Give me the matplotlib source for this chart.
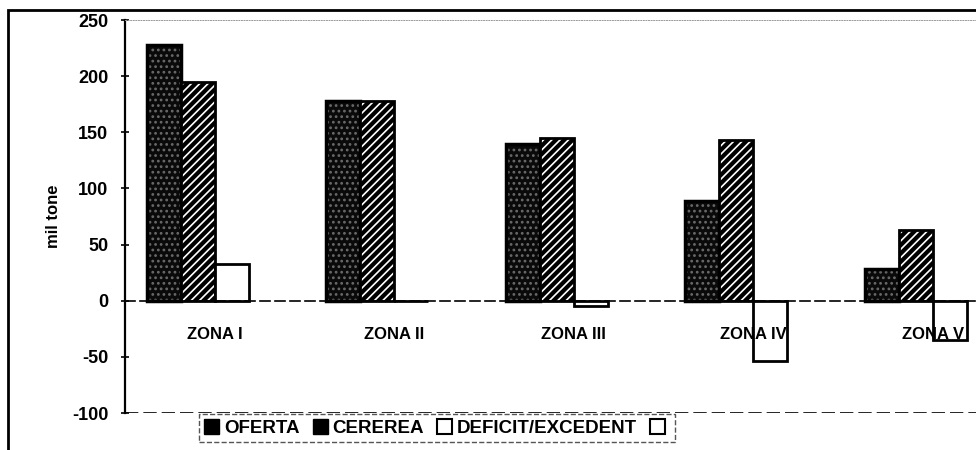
import matplotlib.pyplot as plt
import matplotlib.patches as mpatches
import numpy as np

plt.rcParams['font.family'] = ['Liberation Sans', 'DejaVu Sans']
plt.rcParams['axes.unicode_minus'] = False
plt.rcParams['hatch.linewidth'] = 1.2

zone = ['ZONA I', 'ZONA II', 'ZONA III', 'ZONA IV', 'ZONA V']
oferta = [228, 178, 140, 89, 28]
cererea = [195, 178, 145, 143, 63]
deficit = [33, 0, -5, -54, -35]
gol = [0, 0, 0, 0, 0]   # a patra serie, goala
serii = ['OFERTA', 'CEREREA', 'DEFICIT/EXCEDENT', '']

fig = plt.figure(figsize=(9.76, 4.5), dpi=100)
# chenarul exterior (taiat in dreapta si jos)
fig.add_artist(mpatches.Rectangle((8/976, -0.2), 1.2, 1.2 - 10/450,
                                  transform=fig.transFigure, fill=False,
                                  edgecolor='black', linewidth=2))

ax = fig.add_axes([125/976, 1 - 413/450, 5*179.5/976, 393/450])

# axa x pe linia de zero (inainte de etichete, altfel se reseteaza)
ax.spines['bottom'].set_position(('data', 0))
ax.spines['bottom'].set_linestyle((0, (6, 3)))
ax.spines['bottom'].set_linewidth(1.2)
ax.spines['left'].set_linewidth(1.6)
ax.spines['top'].set_linestyle(':')
ax.spines['top'].set_color('#999999')
ax.spines['top'].set_linewidth(0.7)
ax.spines['right'].set_visible(False)

x = np.arange(len(zone))
w = 0.19

ax.bar(x - 1.5*w, oferta, w, facecolor='#0a0a0a', edgecolor='#6a6a6a', hatch='...', linewidth=0)
ax.bar(x - 1.5*w, oferta, w, fill=False, edgecolor='black', linewidth=2.5)
ax.bar(x - 0.5*w, cererea, w, facecolor='black', edgecolor='white', hatch='////', linewidth=0)
ax.bar(x - 0.5*w, cererea, w, fill=False, edgecolor='black', linewidth=2)
ax.bar(x + 0.5*w, deficit, w, facecolor='white', edgecolor='black', linewidth=2)
ax.bar(x + 1.5*w, gol, w, facecolor='white', edgecolor='black', linewidth=0)

ax.set_xlim(-0.5, len(zone) - 0.5)
ax.set_ylim(-100, 250)
ax.set_yticks(range(-100, 251, 50))
ax.set_xticks(x)
ax.set_xticklabels(zone, fontsize=12, fontweight='bold')
ax.tick_params(axis='x', length=0, pad=19)
ax.tick_params(axis='y', direction='inout', length=6, width=1.2, pad=9, labelsize=13)
for t in ax.get_yticklabels():
    t.set_fontweight('bold')

ax.axhline(-100, color='black', linewidth=1.2, linestyle=(0, (8, 3)))

ax.set_ylabel('mil tone', fontsize=12, fontweight='bold', labelpad=8)

handles = [mpatches.Patch(facecolor='black', edgecolor='black'),
           mpatches.Patch(facecolor='black', edgecolor='black'),
           mpatches.Patch(facecolor='white', edgecolor='black', linewidth=1.5),
           mpatches.Patch(facecolor='white', edgecolor='black', linewidth=1.5)]
leg = fig.legend(handles, serii, loc='center', bbox_to_anchor=(437/976, 1 - 428/450),
                 ncol=4, handlelength=0.8, handleheight=0.8,
                 handletextpad=0.25, columnspacing=0.7, borderpad=0.3,
                 fancybox=False, framealpha=1,
                 prop={'size': 13.5, 'weight': 'semibold'})
leg.get_frame().set_edgecolor('#555555')
leg.get_frame().set_linestyle('--')
leg.get_frame().set_linewidth(1)

fig.savefig('out.png', dpi=100)
